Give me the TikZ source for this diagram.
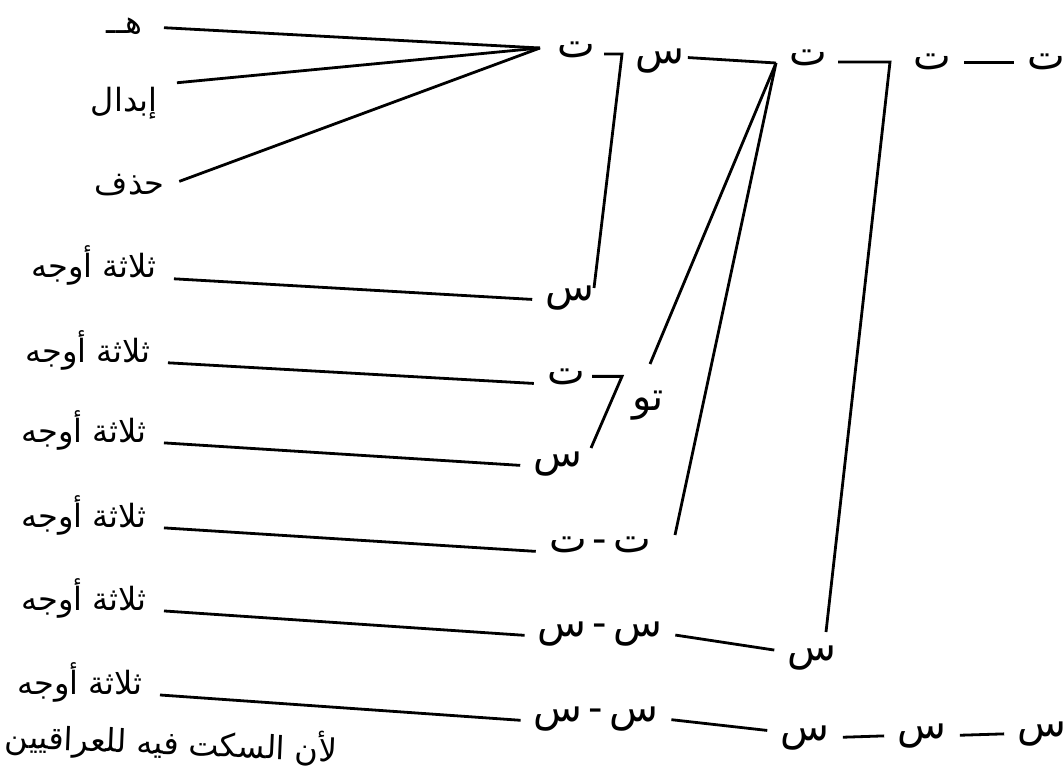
\documentclass[tikz,border=0pt]{standalone}
\usepackage{fontspec}
\newfontfamily\arabicfont[Script=Arabic]{DejaVu Sans}
\TeXXeTstate=1
\newcommand{\rl}[1]{\beginR#1\endR}

\begin{document}
\begin{tikzpicture}[x=0.5pt, y=-0.5pt, line width=1.4pt,
    ar/.style={font=\arabicfont\fontsize{16}{18}\selectfont, inner sep=1pt},
    lbl/.style={ar, anchor=base east},
    harf/.style={font=\arabicfont\fontsize{20}{22}\selectfont, inner sep=1pt, anchor=base},
    link/.style={shorten <=5pt, shorten >=5pt}]
    \useasboundingbox (0,0) rectangle (1064,770);

    % Nhan ben trai
    \node[lbl] (ha)  at (146,34)  {\rl{هــ}};
    \node[lbl] (ib)  at (161,112) {\rl{إبدال}};
    \node[lbl] (hz)  at (168,195) {\rl{حذف}};
    \foreach \i/\x/\y in {1/160/278, 2/154/362, 3/150/442, 4/150/527, 5/150/610, 6/146/694}
        \node[lbl] (L\i) at (\x,\y) {\rl{ثلاثة أوجه}};

    % Hang tren
    \node[harf] (t1) at (576,58) {\rl{ت}};
    \node[harf] (s1) at (660,64) {\rl{س}};
    \node[harf] (t2) at (808,66) {\rl{ت}};
    \node[harf] (t3) at (932,70) {\rl{ت}};
    \node[harf] (t4) at (1046,70) {\rl{ت}};

    % Cac hang ben phai
    \node[harf] (R1) at (570,300) {\rl{س}};
    \node[harf] (R2) at (566,384) {\rl{ت}};
    \node[harf] (tw) at (648,410) {\rl{تو}};
    \node[harf] (R3) at (558,466) {\rl{س}};
    \node[harf] (R4) at (600,552) {\rl{ت\hspace{3pt}-\hspace{3pt}ت}};
    \node[harf] (R5) at (600,636) {\rl{س\hspace{3pt}-\hspace{3pt}س}};
    \node[harf] (q5) at (812,660) {\rl{س}};
    \node[harf] (R6) at (596,721) {\rl{س\hspace{3pt}-\hspace{3pt}س}};
    \node[harf] (b1) at (805,740) {\rl{س}};
    \node[harf] (b2) at (922,738) {\rl{س}};
    \node[harf] (b3) at (1042,736) {\rl{س}};

    % Dong chu o duoi
    \node[ar, anchor=west, rotate=-2.5] (ft) at (2,736) {\rl{لأن السكت فيه للعراقيين}};

    % Diem hoi tu va goc moc
    \coordinate (fanA) at (540,48);
    \coordinate (fanB) at (776,63);
    \coordinate (kA) at (622,0);
    \coordinate (kB) at (622,0);
    \coordinate (kC) at (890,0);

    % Ba duong vao ت
    \draw[shorten <=9pt] (ha.east) -- (fanA);
    \draw[shorten <=8pt] (ib.north east) -- (fanA);
    \draw[shorten <=6pt] (hz.east) -- (fanA);

    % Cac duong ngang tu nhan
    \foreach \i in {1,...,6}
        \draw[link, shorten <=7pt] (L\i.base east) -- (R\i.base west);

    % Moc cua ت tren
    \draw ([xshift=3pt,yshift=2pt]t1.base east) -- ([yshift=2pt]t1.base east -| kA) -- (594,288);
    % س noi toi ت va hai duong xien
    \draw ([yshift=2pt]s1.east) -- (fanB);
    \draw (fanB) -- (650,364);
    \draw (fanB) -- (675,535);
    % Moc cua ت thu hai
    \draw ([xshift=4pt,yshift=2pt]t2.base east) -- ([yshift=2pt]t2.base east -| kC) -- (826,632);
    \draw[link] (t3) -- (t4);
    % Moc cua ت hang hai
    \draw ([xshift=2pt]R2.east) -- (R2.east -| kB) -- (591,448);

    % Hang duoi
    \draw[link] (R5.east) -- ([yshift=3pt]q5.west);
    \draw[link] (R6.east) -- ([yshift=3pt]b1.west);
    \draw[link] (b1.east) -- (b2.west);
    \draw[link] (b2.east) -- (b3.west);
\end{tikzpicture}
\end{document}
